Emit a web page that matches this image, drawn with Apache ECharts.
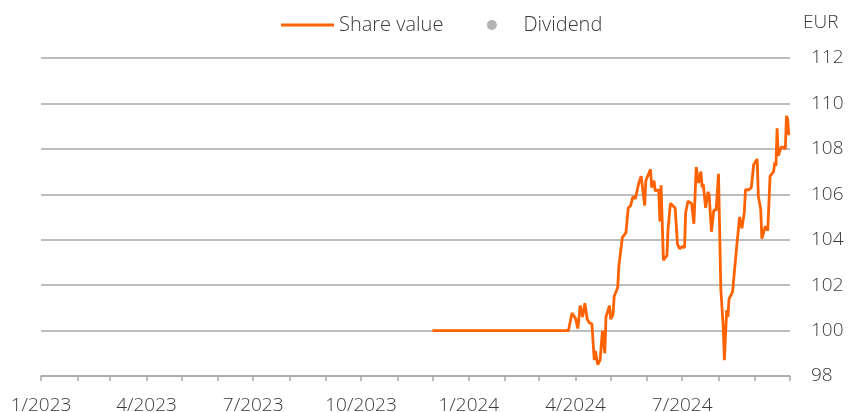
<!DOCTYPE html>
<html>
<head>
<meta charset="utf-8">
<script src="https://cdn.jsdelivr.net/npm/echarts@6/dist/echarts.min.js"></script>
<style>
  html, body { margin: 0; padding: 0; background: #fff; }
  #chart { width: 849px; height: 412px; }
</style>
</head>
<body>
<div id="chart"></div>
<script>
// Share value (EUR) by date
const shareDates = [
  '2023-12-01', '2024-03-26', '2024-03-29', '2024-04-01', '2024-04-03', '2024-04-05',
  '2024-04-07', '2024-04-09', '2024-04-11', '2024-04-13', '2024-04-15', '2024-04-17',
  '2024-04-18', '2024-04-20', '2024-04-22', '2024-04-24', '2024-04-26', '2024-04-27',
  '2024-04-30', '2024-05-01', '2024-05-03', '2024-05-04', '2024-05-07', '2024-05-08',
  '2024-05-11', '2024-05-14', '2024-05-16', '2024-05-18', '2024-05-20', '2024-05-22',
  '2024-05-23', '2024-05-25', '2024-05-27', '2024-05-30', '2024-05-31', '2024-06-04',
  '2024-06-05', '2024-06-07', '2024-06-08', '2024-06-11', '2024-06-12', '2024-06-13',
  '2024-06-15', '2024-06-18', '2024-06-19', '2024-06-21', '2024-06-25', '2024-06-27',
  '2024-06-29', '2024-07-01', '2024-07-03', '2024-07-04', '2024-07-06', '2024-07-09',
  '2024-07-11', '2024-07-13', '2024-07-15', '2024-07-17', '2024-07-18', '2024-07-19',
  '2024-07-21', '2024-07-23', '2024-07-24', '2024-07-26', '2024-07-28', '2024-07-30',
  '2024-08-01', '2024-08-03', '2024-08-05', '2024-08-06', '2024-08-08', '2024-08-09',
  '2024-08-10', '2024-08-13', '2024-08-15', '2024-08-17', '2024-08-19', '2024-08-21',
  '2024-08-23', '2024-08-24', '2024-08-27', '2024-08-29', '2024-08-31', '2024-09-03',
  '2024-09-04', '2024-09-06', '2024-09-07', '2024-09-10', '2024-09-12', '2024-09-14',
  '2024-09-17', '2024-09-18', '2024-09-19', '2024-09-20', '2024-09-21', '2024-09-23',
  '2024-09-24', '2024-09-25', '2024-09-27', '2024-09-28', '2024-09-29', '2024-09-30'
];
const shareValues = [
  100.0, 100.0, 100.77, 100.53, 100.09, 101.1,
  100.6, 101.2, 100.5, 100.33, 100.3, 98.7,
  99.1, 98.5, 98.7, 100.0, 99.0, 100.6,
  101.1, 100.5, 100.7, 101.5, 101.9, 102.85,
  104.1, 104.3, 105.4, 105.5, 105.9, 105.8,
  105.8, 106.5, 106.8, 105.5, 106.6, 107.1,
  106.3, 106.6, 106.15, 106.2, 104.8, 106.4,
  103.1, 103.3, 104.5, 105.6, 105.4, 103.8,
  103.6, 103.7, 103.65, 105.2, 105.7, 105.6,
  104.7, 107.2, 106.5, 107.0, 106.3, 106.45,
  105.4, 106.1, 106.0, 104.35, 105.3, 105.3,
  106.9, 101.8, 100.2, 98.7, 100.9, 100.6,
  101.4, 101.7, 102.85, 103.95, 105.0, 104.5,
  105.2, 106.2, 106.2, 106.3, 107.3, 107.55,
  105.9, 105.35, 104.05, 104.6, 104.4, 106.8,
  107.0, 107.4, 107.25, 108.9, 107.7, 108.0,
  108.1, 108.15, 108.0, 109.45, 109.3, 108.6
];
// No dividend paid in the period shown
const dividendDates = [];
const dividendValues = [];

// Axis range and tick positions
const axisStart = '2023-01-01';
const axisEnd = '2024-10-01';
const monthTicks = [
  '2023-01-01', '2023-02-01', '2023-03-01', '2023-04-01', '2023-05-01', '2023-06-01',
  '2023-07-01', '2023-08-01', '2023-09-01', '2023-10-01', '2023-11-01', '2023-12-01',
  '2024-01-01', '2024-02-01', '2024-03-01', '2024-04-01', '2024-05-01', '2024-06-01',
  '2024-07-01', '2024-08-01', '2024-09-01', '2024-10-01'
];
const quarterLabels = [
  '2023-01-01', '2023-04-01', '2023-07-01', '2023-10-01',
  '2024-01-01', '2024-04-01', '2024-07-01'
];
const yMin = 98, yMax = 112, yStep = 2;

const toTime = s => {
  const p = s.split('-').map(Number);
  return new Date(p[0], p[1] - 1, p[2]).getTime();
};

const chart = echarts.init(document.getElementById('chart'), null, { renderer: 'canvas' });
const textColor = '#3a3a3a';
const gridColor = '#a8a8a8';
const shareColor = '#ff6200';
const font = '"Open Sans", "Liberation Sans", sans-serif';
const axisFont = { fontSize: 19, fontWeight: 300, color: textColor, fontFamily: font };

// Legend icons: a short stroke for the line, a dot centred in the same 53x11 box
const lineIcon = 'path://M0,0 L53,0 L53,2.8 L0,2.8 Z';
const dotIcon = 'path://M0,0 M53,11 M21.5,5.5 A5,5 0 1 1 31.5,5.5 A5,5 0 1 1 21.5,5.5 Z';

chart.setOption({
  animation: false,
  textStyle: { fontFamily: font },
  grid: { left: 41, right: 59, top: 58, bottom: 36, containLabel: false, outerBoundsMode: 'none' },
  legend: {
    left: 276,
    top: 10,
    itemWidth: 53,
    itemHeight: 11,
    itemGap: 22,
    textStyle: { fontSize: 20, color: textColor, fontFamily: font, fontWeight: 300 },
    data: [
      { name: 'Share value', icon: lineIcon, itemStyle: { color: shareColor } },
      { name: 'Dividend', icon: dotIcon, itemStyle: { color: '#a0a0a0' } }
    ]
  },
  xAxis: {
    type: 'value',
    min: toTime(axisStart),
    max: toTime(axisEnd),
    axisLine: { show: true, lineStyle: { color: gridColor, width: 1.5 } },
    axisTick: {
      show: true,
      length: 5,
      customValues: monthTicks.map(toTime),
      lineStyle: { color: gridColor, width: 1.5 }
    },
    axisLabel: Object.assign({
      customValues: quarterLabels.map(toTime),
      margin: 20,
      formatter: v => {
        const d = new Date(v);
        return (d.getMonth() + 1) + '/' + d.getFullYear();
      }
    }, axisFont),
    splitLine: { show: false }
  },
  yAxis: {
    type: 'value',
    position: 'right',
    min: yMin,
    max: yMax,
    interval: yStep,
    name: 'EUR',
    nameLocation: 'end',
    nameGap: 26,
    nameTextStyle: Object.assign({ align: 'left', padding: [0, 0, 0, 13] }, axisFont),
    axisLine: { show: false },
    axisTick: { show: false },
    axisLabel: Object.assign({ margin: 21 }, axisFont),
    splitLine: { show: true, lineStyle: { color: gridColor, width: 1.5 } }
  },
  series: [
    {
      name: 'Share value',
      type: 'line',
      symbol: 'none',
      color: shareColor,
      lineStyle: { width: 2.8, color: shareColor },
      data: shareDates.map((d, i) => [toTime(d), shareValues[i]])
    },
    {
      name: 'Dividend',
      type: 'scatter',
      color: '#a0a0a0',
      symbolSize: 10,
      data: dividendDates.map((d, i) => [toTime(d), dividendValues[i]])
    }
  ]
});
</script>
</body>
</html>
